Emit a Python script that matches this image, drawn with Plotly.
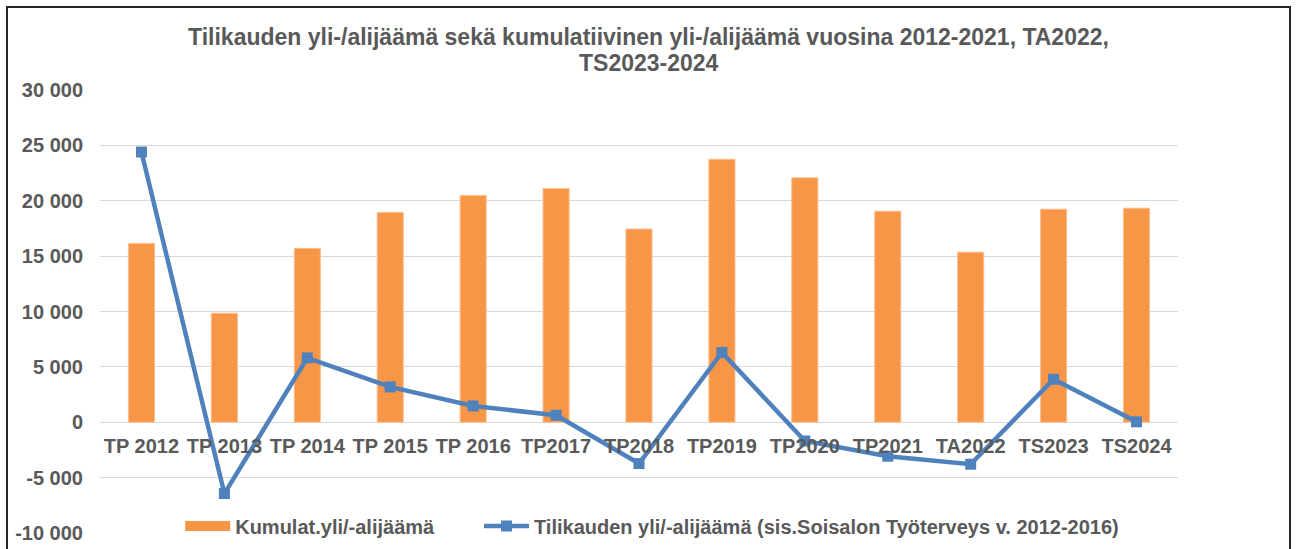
import plotly.graph_objects as go

categories = ["TP 2012", "TP 2013", "TP 2014", "TP 2015", "TP 2016", "TP2017", "TP2018",
              "TP2019", "TP2020", "TP2021", "TA2022", "TS2023", "TS2024"]
kumulat = [16150, 9850, 15700, 18950, 20480, 21100, 17450, 23750, 22070, 19060, 15360, 19240, 19330]
tilikausi = [24400, -6440, 5810, 3190, 1470, 630, -3730, 6300, -1690, -3070, -3790, 3880, 40]
ytick_vals = [-10000, -5000, 0, 5000, 10000, 15000, 20000, 25000, 30000]
ytick_text = ["-10 000", "-5 000", "0", "5 000", "10 000", "15 000", "20 000", "25 000", "30 000"]

name_bar = "Kumulat.yli/-alijäämä"
name_line = "Tilikauden yli/-alijäämä (sis.Soisalon Työterveys v. 2012-2016)"
title_line1 = "Tilikauden yli-/alijäämä sekä kumulatiivinen yli-/alijäämä vuosina 2012-2021, TA2022,"
title_line2 = "TS2023-2024"

FONT = "Liberation Sans, Arial, sans-serif"
GRAY = "#595959"
ORANGE = "#F79646"
BLUE = "#4F81BD"
H = 549

fig = go.Figure()
fig.add_trace(go.Bar(
    x=categories, y=kumulat, name=name_bar, showlegend=False,
    marker=dict(color=ORANGE, line=dict(color="#FAC090", width=1)),
    width=0.315,
))
# legend-only entry to mimic the wide orange legend swatch
fig.add_trace(go.Scatter(
    x=[None], y=[None], name="<b>" + name_bar + "</b>", mode="lines",
    line=dict(color=ORANGE, width=11), showlegend=True, legend="legend",
))
fig.add_trace(go.Scatter(
    x=categories, y=tilikausi, name="<b>" + name_line + "</b>", mode="lines+markers",
    line=dict(color=BLUE, width=4.5),
    marker=dict(symbol="square", size=11, color=BLUE), legend="legend2",
))

legend_common = dict(orientation="h", xanchor="left", y=0.016, yanchor="middle",
                     bgcolor="rgba(0,0,0,0)", font=dict(family=FONT, size=20, color=GRAY),
                     itemwidth=45)

fig.update_layout(
    width=1297, height=H,
    margin=dict(l=100, r=119, t=90, b=16, autoexpand=False),
    paper_bgcolor="white", plot_bgcolor="white",
    font=dict(family=FONT, color=GRAY, size=20),
    title=dict(text="<b>" + title_line1 + "</b>", x=0.5, xref="container", xanchor="center",
               y=1 - 37 / H, yref="container", yanchor="middle",
               font=dict(family=FONT, size=23, color=GRAY)),
    showlegend=True,
    legend=dict(x=0.0744, **legend_common),
    legend2=dict(x=(485 - 6 - 100) / 1078, **legend_common),
    bargap=0.6,
)
fig.add_annotation(text="<b>" + title_line2 + "</b>", xref="paper", yref="paper",
                   x=(648.5 - 100) / 1078, y=(533 - 63) / 443, xanchor="center", yanchor="middle",
                   showarrow=False, font=dict(family=FONT, size=23, color=GRAY))
fig.update_yaxes(
    range=[-10000, 30000], tickvals=ytick_vals, ticktext=["<b>" + t + "</b>" for t in ytick_text],
    showgrid=True, gridcolor="#D9D9D9", gridwidth=1.3, zeroline=True, zerolinecolor="#D9D9D9",
    zerolinewidth=1.3, showline=False, ticks="", ticklabelstandoff=16, automargin=False,
)
fig.update_xaxes(
    tickvals=categories, ticktext=["<b>" + c + "</b>" for c in categories],
    anchor="free", position=(10000 / 40000), showline=False, ticks="", showgrid=False,
    range=[-0.5, len(categories) - 0.5], ticklabelstandoff=10, automargin=False,
)
fig.add_shape(type="rect", xref="paper", yref="paper",
              x0=(7 - 100) / 1078, x1=(1290 - 100) / 1078,
              y0=-0.2, y1=(533 - 7) / 443,
              line=dict(color="#262626", width=2), fillcolor="rgba(0,0,0,0)", layer="below")

fig.write_html("out.html", config={"displayModeBar": False},
               post_script="document.body.style.margin='0';document.body.style.overflow='hidden';")
